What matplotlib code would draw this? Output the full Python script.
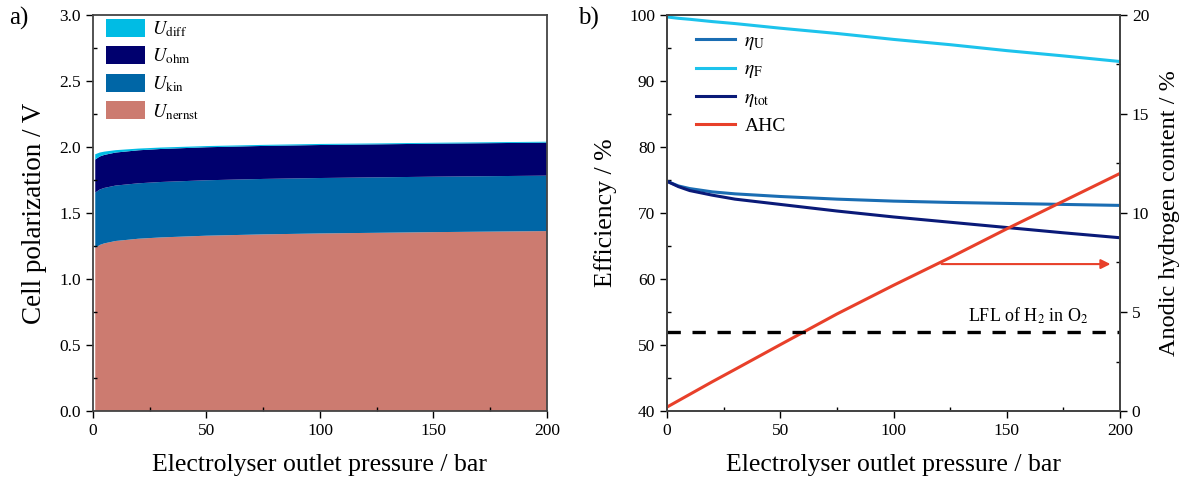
import matplotlib
matplotlib.use("Agg")
import matplotlib.pyplot as plt
from matplotlib.patches import Patch
from matplotlib.lines import Line2D
from matplotlib.ticker import MultipleLocator

plt.rcParams['font.family'] = ['Liberation Serif', 'DejaVu Serif']
plt.rcParams['mathtext.fontset'] = 'stix'

# a) cell polarization components (V) vs outlet pressure (bar)
pressure_a = [1, 3, 5, 10, 20, 30, 50, 75, 100, 125, 150, 175, 200]
u_nernst = [1.235, 1.258, 1.270, 1.288, 1.305, 1.315, 1.328, 1.338, 1.345, 1.350, 1.355, 1.359, 1.363]
u_kin = [0.420, 0.420, 0.420, 0.420, 0.420, 0.420, 0.420, 0.420, 0.420, 0.420, 0.420, 0.420, 0.420]
u_ohm = [0.250, 0.250, 0.250, 0.250, 0.250, 0.250, 0.250, 0.250, 0.250, 0.250, 0.250, 0.250, 0.250]
u_diff = [0.040, 0.030, 0.025, 0.018, 0.013, 0.011, 0.009, 0.008, 0.008, 0.007, 0.007, 0.007, 0.007]

# b) efficiencies (%) and anodic hydrogen content (%)
pressure_b = [0, 5, 10, 20, 30, 50, 75, 100, 125, 150, 175, 200]
eta_u = [74.8, 74.1, 73.7, 73.2, 72.9, 72.5, 72.1, 71.8, 71.6, 71.45, 71.3, 71.15]
eta_f = [99.7, 99.5, 99.35, 99.0, 98.7, 98.0, 97.2, 96.3, 95.5, 94.6, 93.8, 92.95]
eta_tot = [74.8, 74.0, 73.4, 72.7, 72.1, 71.3, 70.3, 69.4, 68.6, 67.8, 67.0, 66.25]
ahc = [0.2, 0.52, 0.84, 1.48, 2.1, 3.35, 4.9, 6.35, 7.75, 9.2, 10.6, 12.0]
lfl = 4.0

c_diff, c_ohm, c_kin, c_nernst = '#00BCE4', '#00006E', '#0066A6', '#CC7B70'
c_u, c_f, c_tot, c_ahc = '#1A6DB3', '#1DC3EC', '#0A1A78', '#E8402A'

fig = plt.figure(figsize=(11.8, 4.82), dpi=100)
ax1 = fig.add_axes([0.0788, 0.1473, 0.3847, 0.8216])
ax2 = fig.add_axes([0.5653, 0.1473, 0.3839, 0.8216])


def style_axis(ax):
    ax.tick_params(which='major', direction='out', length=5, width=1, labelsize=12.5)
    ax.tick_params(which='minor', direction='in', length=3, width=1)
    for s in ax.spines.values():
        s.set_linewidth(1.3)
        s.set_color('#444444')


# ---- panel a: stacked areas
ax1.stackplot(pressure_a, u_nernst, u_kin, u_ohm, u_diff,
              colors=[c_nernst, c_kin, c_ohm, c_diff], linewidth=0)
ax1.set_xlim(0, 200)
ax1.set_ylim(0, 3.0)
ax1.xaxis.set_major_locator(MultipleLocator(50))
ax1.xaxis.set_minor_locator(MultipleLocator(25))
ax1.yaxis.set_major_locator(MultipleLocator(0.5))
ax1.yaxis.set_minor_locator(MultipleLocator(0.25))
ax1.yaxis.set_major_formatter(plt.FormatStrFormatter('%.1f'))
style_axis(ax1)
ax1.set_xlabel('Electrolyser outlet pressure / bar', fontsize=18.5, labelpad=11)
ax1.set_ylabel('Cell polarization / V', fontsize=19.5, labelpad=9)

handles_a = [Patch(facecolor=c, edgecolor='none') for c in [c_diff, c_ohm, c_kin, c_nernst]]
labels_a = [r'$U_{\mathrm{diff}}$', r'$U_{\mathrm{ohm}}$', r'$U_{\mathrm{kin}}$', r'$U_{\mathrm{nernst}}$']
ax1.legend(handles_a, labels_a, loc='upper left', bbox_to_anchor=(0.02, 1.0),
           frameon=False, fontsize=13.5, handlelength=2.1, handleheight=1.1,
           labelspacing=0.4, borderaxespad=0.0, borderpad=0.2, handletextpad=0.35)
fig.text(0.008, 0.95, 'a)', fontsize=18)

# ---- panel b: efficiencies + hydrogen content
ax2.plot(pressure_b, eta_u, color=c_u, lw=2.2)
ax2.plot(pressure_b, eta_f, color=c_f, lw=2.2)
ax2.plot(pressure_b, eta_tot, color=c_tot, lw=2.2)
ax2.set_xlim(0, 200)
ax2.set_ylim(40, 100)
ax2.xaxis.set_major_locator(MultipleLocator(50))
ax2.xaxis.set_minor_locator(MultipleLocator(25))
ax2.yaxis.set_major_locator(MultipleLocator(10))
ax2.yaxis.set_minor_locator(MultipleLocator(5))
style_axis(ax2)
ax2.set_xlabel('Electrolyser outlet pressure / bar', fontsize=18.5, labelpad=11)
ax2.set_ylabel('Efficiency / %', fontsize=18.5, labelpad=9)

ax3 = ax2.twinx()
ax3.plot(pressure_b, ahc, color=c_ahc, lw=2.2)
ax3.axhline(lfl, color='black', lw=2.4, dashes=(4, 3.5))
ax3.set_ylim(0, 20)
ax3.yaxis.set_major_locator(MultipleLocator(5))
ax3.yaxis.set_minor_locator(MultipleLocator(2.5))
style_axis(ax3)
ax3.set_ylabel('Anodic hydrogen content / %', fontsize=17.5, labelpad=7)
ax3.text(186, 4.5, r'LFL of H$_2$ in O$_2$', ha='right', va='baseline', fontsize=13)
ax3.annotate('', xy=(197, 7.42), xytext=(120, 7.42),
             arrowprops=dict(arrowstyle='-|>', color=c_ahc, lw=1.5, mutation_scale=14))

handles_b = [Line2D([], [], color=c, lw=2.2) for c in [c_u, c_f, c_tot, c_ahc]]
labels_b = [r'$\eta_{\mathrm{U}}$', r'$\eta_{\mathrm{F}}$', r'$\eta_{\mathrm{tot}}$', 'AHC']
ax2.legend(handles_b, labels_b, loc='upper left', bbox_to_anchor=(0.025, 1.0),
           frameon=False, fontsize=14, handlelength=2.0, labelspacing=0.45,
           handletextpad=0.5)
fig.text(0.49, 0.95, 'b)', fontsize=18)

fig.savefig('out.png', dpi=100)
